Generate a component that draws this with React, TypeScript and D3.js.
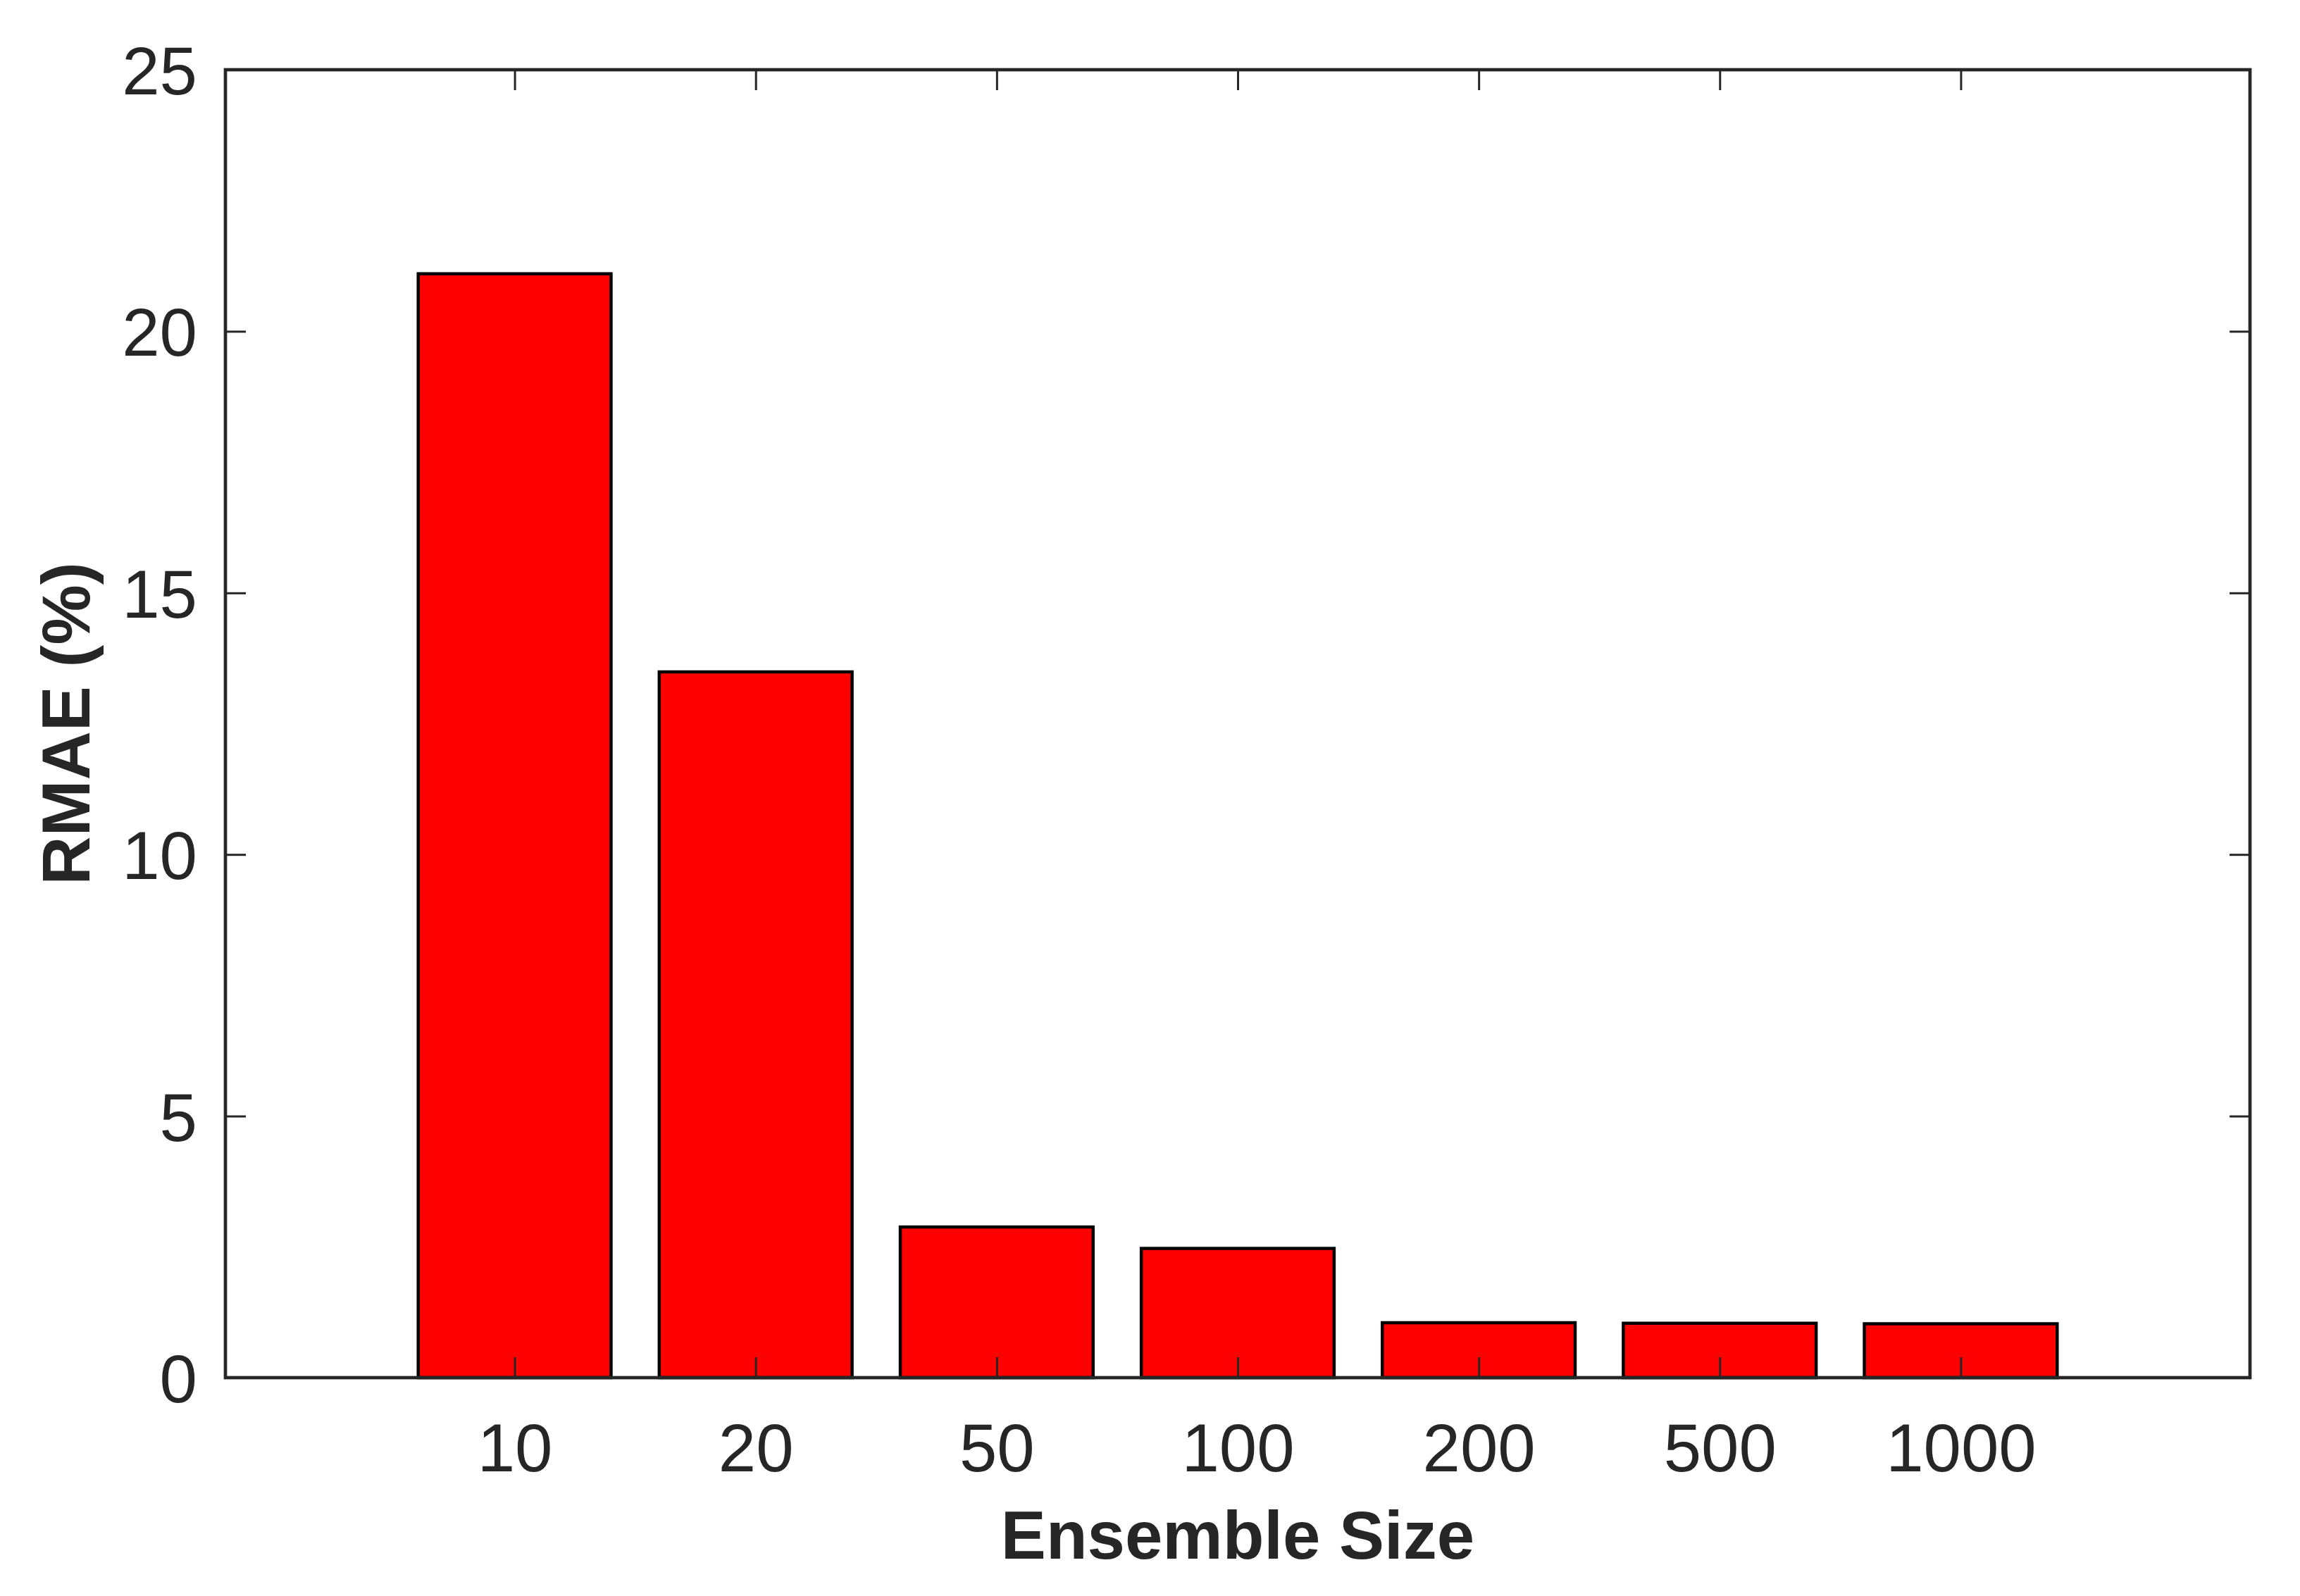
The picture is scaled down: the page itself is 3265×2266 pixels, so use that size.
import { useEffect, useRef } from 'react';
import * as d3 from 'd3';

// ensemble sizes shown on the x axis, and the error for each
const sizes = ['10', '20', '50', '100', '200', '500', '1000'];
const rmae = [21.1, 13.49, 2.88, 2.47, 1.05, 1.04, 1.03];
const yTicks = [0, 5, 10, 15, 20, 25];

const width = 3265;
const height = 2266;
const left = 320;
const right = 3194;
const top = 99;
const bottom = 1956;
const ink = '#262626';
const font = '"Liberation Sans", Arial, Helvetica, sans-serif';

const App = () => {
  const ref = useRef<SVGSVGElement>(null);

  useEffect(() => {
    const svg = d3.select(ref.current);
    svg.selectAll('*').remove();

    // categories sit at 1..n, with a bit of room on both sides
    const x = d3.scaleLinear().domain([-0.2, sizes.length + 1.2]).range([left, right]);
    const y = d3.scaleLinear().domain([0, 25]).range([bottom, top]);
    const barW = x(0.8) - x(0);

    svg.append('rect').attr('width', width).attr('height', height).attr('fill', 'white');

    svg.selectAll('rect.bar')
      .data(rmae)
      .enter()
      .append('rect')
      .attr('class', 'bar')
      .attr('x', (_d, i) => x(i + 1) - barW / 2)
      .attr('y', d => y(d))
      .attr('width', barW)
      .attr('height', d => bottom - y(d))
      .attr('fill', '#ff0000')
      .attr('stroke', '#000')
      .attr('stroke-width', 4.5);

    const xTickVals = sizes.map((_s, i) => i + 1);
    const tickLen = 29;

    const styleAxis = (g: any) => {
      g.select('.domain').remove();
      g.selectAll('line').attr('stroke', ink).attr('stroke-width', 3);
      g.selectAll('text').attr('fill', ink).attr('font-family', font).attr('font-size', 96);
    };

    // left axis with labels
    svg.append('g')
      .attr('transform', `translate(${left},0)`)
      .call(d3.axisLeft(y).tickValues(yTicks).tickSize(-tickLen).tickSizeOuter(0).tickPadding(40))
      .call(styleAxis)
      .call((g: any) => g.selectAll('text').attr('dy', '0.36em'));

    // right mirror ticks
    svg.append('g')
      .attr('transform', `translate(${right},0)`)
      .call(d3.axisRight(y).tickValues(yTicks).tickSize(-tickLen).tickSizeOuter(0).tickFormat(() => ''))
      .call(styleAxis);

    // bottom axis with category labels
    svg.append('g')
      .attr('transform', `translate(0,${bottom})`)
      .call(d3.axisBottom(x).tickValues(xTickVals).tickSize(-tickLen).tickSizeOuter(0)
        .tickFormat((_d: any, i: number) => sizes[i]))
      .call(styleAxis)
      .call((g: any) => g.selectAll('text').attr('y', 133).attr('dy', 0));

    // top mirror ticks
    svg.append('g')
      .attr('transform', `translate(0,${top})`)
      .call(d3.axisTop(x).tickValues(xTickVals).tickSize(-tickLen).tickSizeOuter(0).tickFormat(() => ''))
      .call(styleAxis);

    // box
    svg.append('rect')
      .attr('x', left)
      .attr('y', top)
      .attr('width', right - left)
      .attr('height', bottom - top)
      .attr('fill', 'none')
      .attr('stroke', ink)
      .attr('stroke-width', 4.7);

    svg.append('text')
      .attr('x', (left + right) / 2)
      .attr('y', 2213)
      .attr('text-anchor', 'middle')
      .attr('font-family', font)
      .attr('font-weight', 'bold')
      .attr('font-size', 96)
      .attr('fill', ink)
      .text('Ensemble Size');

    svg.append('text')
      .attr('transform', `translate(127,${(top + bottom) / 2}) rotate(-90)`)
      .attr('text-anchor', 'middle')
      .attr('font-family', font)
      .attr('font-weight', 'bold')
      .attr('font-size', 96)
      .attr('fill', ink)
      .text('RMAE (%)');
  }, []);

  return (
    <svg
      ref={ref}
      width={width}
      height={height}
      style={{ position: 'absolute', left: 0, top: 0, display: 'block' }}
    />
  );
};

export default App;
